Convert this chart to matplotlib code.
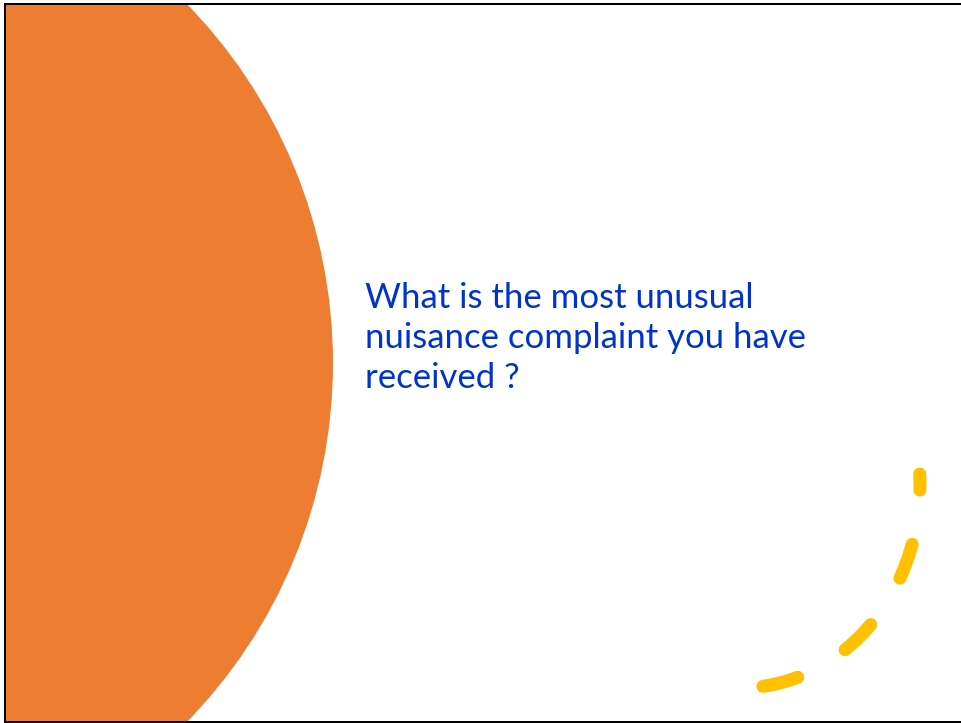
import numpy as np
import matplotlib
matplotlib.use("Agg")
import matplotlib.pyplot as plt
from matplotlib.patches import Circle

# slide content
lines = ["What is the most unusual",
         "nuisance complaint you have",
         "received ?"]
baselines = [308, 348, 388]

orange = "#ED7D31"
yellow = "#FFC000"
blue = "#0033CC"

plt.rcParams["lines.scale_dashes"] = False

W, H = 961, 723
fig = plt.figure(figsize=(W / 100, H / 100), dpi=100)
ax = fig.add_axes([0, 0, 1, 1])
ax.set_xlim(0, W)
ax.set_ylim(H, 0)
ax.axis("off")

# big orange circle on the left, clipped to the slide
circ = Circle((-181, 363), 514, color=orange, lw=0, zorder=1)
ax.add_patch(circ)
clip = plt.Rectangle((5, 4), W, 718, transform=ax.transData)
circ.set_clip_path(clip)

# dashed yellow arc, bottom right
cx, cy, rx, ry = 740, 485, 180, 203
t = np.radians(np.linspace(-3.1, 83.3, 300))
xs = cx + rx * np.cos(t)
ys = cy + ry * np.sin(t)
px = 0.72  # points per pixel
ax.plot(xs, ys, color=yellow, lw=13 * px, dash_capstyle="round",
        linestyle=(20 * px, (36 * px, 55 * px)), zorder=2)

# question text
for s, b in zip(lines, baselines):
    ax.text(365, b, s, color=blue, fontsize=25, family="Lato",
            va="baseline", ha="left", zorder=3)

# slide border
ax.plot([5, 5], [4, 722], color="black", lw=2 * px, zorder=4)
ax.plot([5, W], [4, 4], color="black", lw=2 * px, zorder=4)
ax.plot([5, W], [721.5, 721.5], color="black", lw=2 * px, zorder=4)

fig.savefig("out.png", dpi=100)
